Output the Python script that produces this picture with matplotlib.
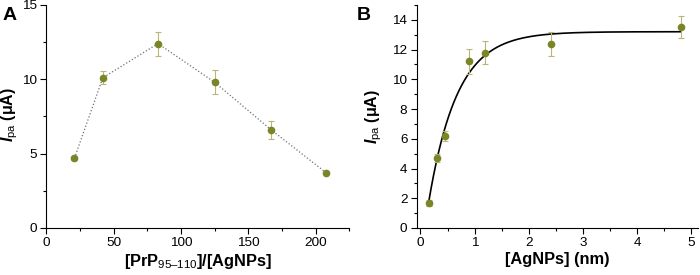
import matplotlib
matplotlib.use("Agg")
import matplotlib.pyplot as plt
import numpy as np
from matplotlib.ticker import MultipleLocator

plt.rcParams["font.family"] = ["Liberation Sans", "DejaVu Sans"]
plt.rcParams["mathtext.fontset"] = "custom"
plt.rcParams["mathtext.rm"] = "Liberation Sans:bold"
plt.rcParams["mathtext.it"] = "Liberation Sans:bold:italic"
plt.rcParams["mathtext.bf"] = "Liberation Sans:bold"
plt.rcParams["mathtext.sf"] = "Liberation Sans"

# Panel A: peak current vs. PrP/AgNPs ratio
ratio = [21, 42, 83, 125, 167, 208]
ipa_a = [4.7, 10.1, 12.4, 9.8, 6.6, 3.7]
err_a = [0.15, 0.45, 0.8, 0.8, 0.6, 0.1]

# Panel B: peak current vs. AgNPs concentration
agnps = [0.15, 0.3, 0.45, 0.9, 1.2, 2.4, 4.8]
ipa_b = [1.7, 4.7, 6.2, 11.2, 11.8, 12.4, 13.5]
err_b = [0.2, 0.25, 0.35, 0.85, 0.8, 0.8, 0.75]

# exponential-rise fit drawn through panel B: y = plateau - amp * exp(-rate * (x - x0))
FIT_PLATEAU = 13.2
FIT_AMP = 11.5
FIT_RATE = 1.9
FIT_X0 = 0.15

MARKER = "#7a8526"
ERRCOL = "#bdb47a"
YLABEL = "$I_{\\mathsf{pa}}$ (μA)"


def style_axes(ax):
    for side in ("top", "right"):
        ax.spines[side].set_visible(False)
    ax.tick_params(which="both", direction="out", labelsize=9.7, width=0.8, pad=2.5)
    ax.tick_params(which="major", length=4)
    ax.tick_params(which="minor", length=2.5)


fig = plt.figure(figsize=(7, 2.75), dpi=100)
ax1 = fig.add_axes([0.066, 0.171, 0.433, 0.811])
ax2 = fig.add_axes([0.595, 0.171, 0.402, 0.811])

ax1.plot(ratio, ipa_a, ls=":", color="#707070", lw=0.9, zorder=1)
ax1.errorbar(ratio, ipa_a, yerr=err_a, fmt="o", ms=4.5, color=MARKER,
             ecolor=ERRCOL, elinewidth=0.8, capsize=2, capthick=0.8, zorder=2)
ax1.set_xlim(0, 225)
ax1.set_ylim(0, 15)
ax1.xaxis.set_major_locator(MultipleLocator(50))
ax1.xaxis.set_minor_locator(MultipleLocator(25))
ax1.yaxis.set_major_locator(MultipleLocator(5))
ax1.yaxis.set_minor_locator(MultipleLocator(2.5))
ax1.set_xlabel("[PrP$_{\\mathsf{95–110}}$]/[AgNPs]", fontsize=11.8,
               fontweight="bold", labelpad=2)
ax1.set_ylabel(YLABEL, fontsize=11.5, fontweight="bold")
ax1.yaxis.set_label_coords(-0.086, 0.507)
style_axes(ax1)

xs = np.linspace(FIT_X0, max(agnps), 200)
ax2.plot(xs, FIT_PLATEAU - FIT_AMP * np.exp(-FIT_RATE * (xs - FIT_X0)),
         color="black", lw=1.2, zorder=1)
ax2.errorbar(agnps, ipa_b, yerr=err_b, fmt="o", ms=4.5, color=MARKER,
             ecolor=ERRCOL, elinewidth=0.8, capsize=2, capthick=0.8, zorder=2)
ax2.set_xlim(-0.073, 5.12)
ax2.set_ylim(0, 15)
ax2.xaxis.set_major_locator(MultipleLocator(1))
ax2.xaxis.set_minor_locator(MultipleLocator(0.5))
ax2.yaxis.set_minor_locator(MultipleLocator(1))
ax2.set_yticks(range(0, 15, 2))
ax2.set_xlabel("[AgNPs] (nm)", fontsize=11.8, fontweight="bold", labelpad=2)
ax2.set_ylabel(YLABEL, fontsize=11.5, fontweight="bold")
ax2.yaxis.set_label_coords(-0.115, 0.50)
style_axes(ax2)

fig.text(0.004, 0.975, "A", fontsize=14, fontweight="bold", va="top")
fig.text(0.51, 0.975, "B", fontsize=14, fontweight="bold", va="top")

fig.savefig("out.png", dpi=100)
